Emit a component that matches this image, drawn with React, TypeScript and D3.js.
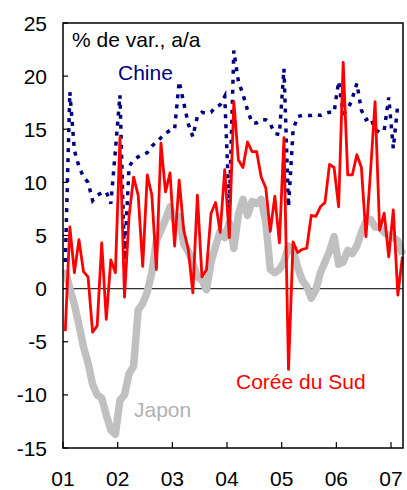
import React from "react";
import * as d3 from "d3";

const years = ["01", "02", "03", "04", "05", "06", "07"];
const yTicks = [-15, -10, -5, 0, 5, 10, 15, 20, 25];

// monthly values, Jan 2001 .. Mar 2007
const korea = [
  -4.0, 5.8, 1.5, 4.6, 1.6, 1.1, -4.1, -3.5, 4.3, -2.9, 2.7, 1.5,
  14.2, -0.8, 6.8, 10.5, 8.8, 2.1, 10.7, 8.8, 1.8, 13.7, 9.1, 10.9,
  4.0, 10.2, 5.5, 3.7, -0.4, 8.8, 1.1, 1.8, 7.1, 8.1, 5.3, 11.2,
  4.8, 17.6, 12.1, 11.4, 13.8, 12.9, 12.9, 10.5, 9.5, 5.4, 8.7, 4.3,
  14.2, -7.6, 4.4, 3.4, 3.7, 3.8, 6.9, 6.8, 7.7, 8.1, 11.7, 11.4,
  7.7, 21.3, 10.7, 10.7, 12.6, 11.4, 4.9, 11.0, 17.6, 5.5, 7.1, 3.0,
  7.4, -0.6, 3.0,
];

const china: (number | null)[] = [
  2.5, 18.5, 13.0, 11.5, 10.5, 10.0, 8.3, 8.8, 9.0, 9.1, 8.0, 13.0,
  18.2, 2.7, 11.5, 12.1, 12.4, 12.6, 12.8, 13.4, 13.8, 14.2, 14.6, 14.9,
  15.0, 19.5, 17.5, 15.5, 14.3, 16.2, 16.6, 16.5, 16.6, 17.1, 17.3, 18.1,
  7.5, 22.4, 19.5, 18.3, 16.8, 15.6, 15.6, 15.9, 15.9, 15.5, 14.6, 14.5,
  20.7, 7.7, 14.9, 16.2, 16.3, 16.3, 16.3, 16.4, 16.3, 16.5, 16.6, 16.6,
  19.5, 16.5, 16.8, 17.9, 19.3, 16.8, 15.9, 16.1, 15.0, 14.7, 14.9, 18.0,
  13.2, 17.4, null,
];

const japan = [
  1.8, 0.0, -1.5, -3.4, -5.5, -7.0, -9.0, -10.0, -10.3, -11.9, -13.3, -13.7,
  -10.5, -10.0, -8.0, -7.3, -2.0, -1.4, -0.3, 1.5, 4.5, 5.5, 6.5, 7.7,
  6.4, 6.8, 4.2, 3.5, 2.4, 1.1, 0.8, -0.1, 2.5, 4.0, 5.4, 4.8,
  6.2, 3.8, 7.0, 8.4, 6.9, 8.2, 8.0, 8.4, 6.3, 1.8, 1.5, 1.8,
  2.5, 4.0, 3.8, 2.0, 0.8, 0.2, -0.9, -0.1, 1.5, 2.5, 3.5, 4.9,
  2.3, 2.5, 3.6, 3.3, 4.0, 5.3, 6.3, 6.5, 5.8, 5.8, 5.3, 5.0,
  4.8, 4.5, 3.2,
];

const W = 407;
const H = 490;
const left = 63, right = 403, top = 23, bottom = 448;
const FONT = "'Liberation Sans', Arial, Helvetica, sans-serif";

export default function App() {
  const x = d3.scaleLinear().domain([2001, 2001 + (right - left) / 54.67]).range([left, right]);
  const y = d3.scaleLinear().domain([-15, 25]).range([bottom, top]);
  const mx = (i: number) => x(2001 + (i + 0.5) / 12);

  const line = d3
    .line<number | null>()
    .defined((d) => d !== null)
    .x((_, i) => mx(i))
    .y((d) => y(d as number));

  return (
    <svg width={W} height={H} style={{ position: "absolute", left: 0, top: 0, background: "#fff" }}>
      <rect x={0} y={0} width={W} height={H} fill="#fff" />
      {/* zero line */}
      <line x1={left} x2={right} y1={y(0)} y2={y(0)} stroke="#333" strokeWidth={1.2} />
      {/* series */}
      <path d={line(japan) || ""} fill="none" stroke="#c0c0c0" strokeWidth={7.5} strokeLinejoin="round" />
      <path d={line(china) || ""} fill="none" stroke="#000080" strokeWidth={3.5} strokeDasharray="4 6" />
      <path d={line(korea) || ""} fill="none" stroke="#ff0000" strokeWidth={2.8} strokeLinejoin="round" />
      {/* frame */}
      <rect x={left} y={top} width={right - left} height={bottom - top} fill="none" stroke="#000" strokeWidth={1.5} />
      {/* y ticks */}
      {yTicks.map((t) => (
        <g key={t}>
          <line x1={left} x2={left + 5} y1={y(t)} y2={y(t)} stroke="#000" strokeWidth={1.2} />
          <text x={47} y={y(t)} dy="0.36em" textAnchor="end" fontFamily={FONT} fontSize={21} fill="#000">
            {t}
          </text>
        </g>
      ))}
      {/* x ticks */}
      {years.map((yr, i) => (
        <g key={yr}>
          <line x1={x(2001 + i)} x2={x(2001 + i)} y1={bottom} y2={bottom - 6} stroke="#000" strokeWidth={1.2} />
          <text x={x(2001 + i)} y={486} textAnchor="middle" fontFamily={FONT} fontSize={21} fill="#000">
            {yr}
          </text>
        </g>
      ))}
      {/* labels */}
      <text x={72} y={47} fontFamily={FONT} fontSize={21} fill="#000">% de var., a/a</text>
      <text x={118} y={80} fontFamily={FONT} fontSize={21} fill="#000080">Chine</text>
      <text x={236} y={389} fontFamily={FONT} fontSize={21} fill="#ff0000">Corée du Sud</text>
      <text x={134} y={417} fontFamily={FONT} fontSize={21} fill="#b0b0b0">Japon</text>
    </svg>
  );
}
